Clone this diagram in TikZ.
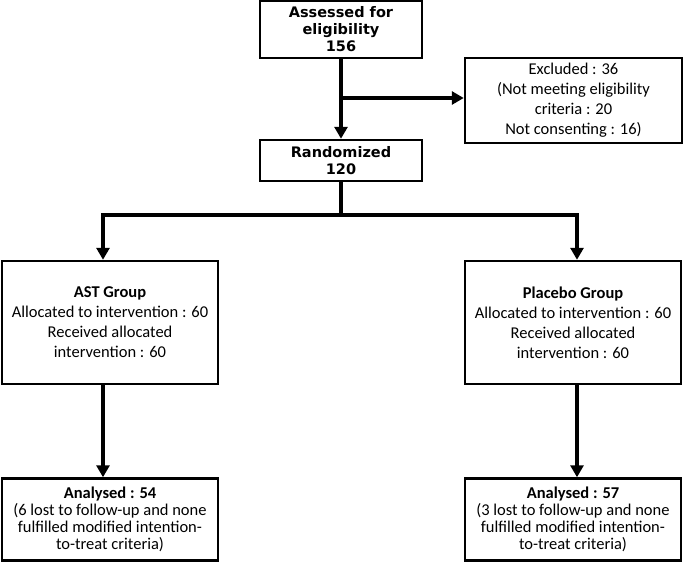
\documentclass[tikz,border=0pt]{standalone}
\usepackage{fontspec}
\setmainfont{Carlito}
\newfontfamily\headfont{DejaVu Sans}
\usetikzlibrary{arrows.meta}
\begin{document}
\begin{tikzpicture}[x=1pt,y=-1pt,
  box/.style={draw,line width=2.5pt,align=center,inner sep=0pt,font=\fontsize{16.5}{20}\selectfont},
  headbox/.style={box,font=\headfont\bfseries\fontsize{14.5}{17}\selectfont},
  anbox/.style={box,font=\fontsize{16.5}{17}\selectfont},
  conn/.style={line width=4.5pt},
  arr/.style={conn,-{Triangle[width=13pt,length=12pt]}},
  branch/.style={arr,line width=3.5pt}]
\useasboundingbox (0,0) rectangle (683,563);

\node[headbox,minimum width=162pt,minimum height=57pt] (assess) at (341,29.5) {Assessed for\\eligibility\\156};
\node[box,minimum width=217pt,minimum height=85pt] (excl) at (573.5,100.5) {Excluded : 36\\(Not meeting eligibility\\criteria : 20\\Not consenting : 16)};
\node[headbox,minimum width=162pt,minimum height=41pt] (rand) at (341,160.5) {Randomized\\120};
\node[box,minimum width=216pt,minimum height=123pt] (ast) at (110,322.5) {\textbf{AST Group}\\Allocated to intervention : 60\\Received allocated\\intervention : 60};
\node[box,minimum width=216pt,minimum height=123pt] (plac) at (573,322.5) {\textbf{Placebo Group}\\Allocated to intervention : 60\\Received allocated\\intervention : 60};
\node[anbox,minimum width=216pt,minimum height=82pt] (an1) at (110,519.5) {\textbf{Analysed : 54}\\(6 lost to follow-up and none\\fulfilled modified intention-\\to-treat criteria)};
\node[anbox,minimum width=216pt,minimum height=82pt] (an2) at (573,519.5) {\textbf{Analysed : 57}\\(3 lost to follow-up and none\\fulfilled modified intention-\\to-treat criteria)};

\draw[arr] (assess.south) -- (rand.north);
\coordinate (j1) at (341,98);
\draw[arr] (j1) -- (j1 -| excl.west);
\coordinate (split) at (341,215);
\draw[conn] (rand.south) -- (split);
\draw[branch] (split) -| ([xshift=-7pt]ast.north);
\draw[branch] (split) -| ([xshift=4pt]plac.north);
\draw[arr] ([xshift=-7pt]ast.south) -- ([xshift=-7pt]an1.north);
\draw[arr] ([xshift=4pt]plac.south) -- ([xshift=4pt]an2.north);
\end{tikzpicture}
\end{document}
